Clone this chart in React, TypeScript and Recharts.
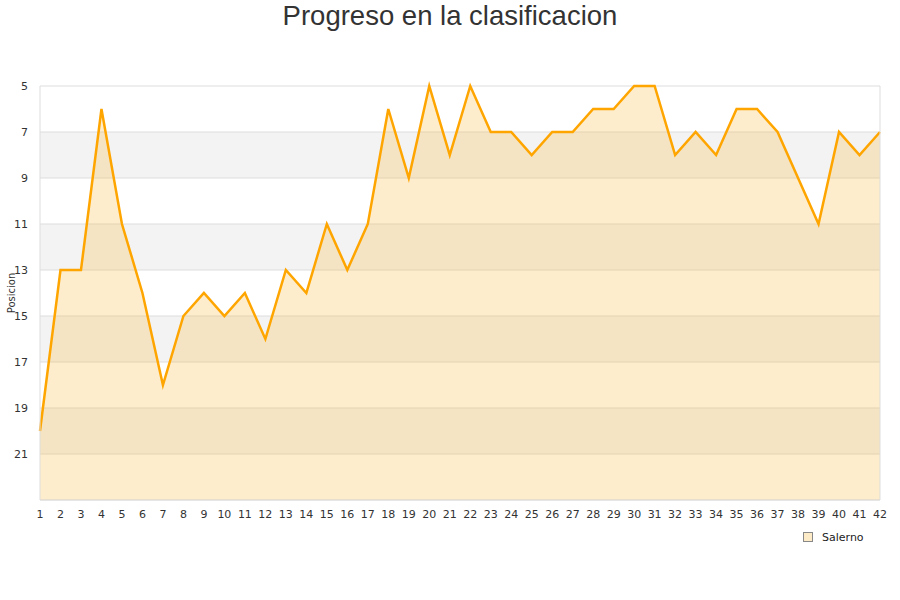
import React from 'react';
import {
  AreaChart,
  Area,
  XAxis,
  YAxis,
  CartesianGrid,
  Legend,
  ReferenceLine,
} from 'recharts';

const jornadas = [
  1, 2, 3, 4, 5, 6, 7, 8, 9, 10, 11, 12, 13, 14, 15, 16, 17, 18, 19, 20, 21,
  22, 23, 24, 25, 26, 27, 28, 29, 30, 31, 32, 33, 34, 35, 36, 37, 38, 39, 40,
  41, 42,
];
const salerno = [
  20, 13, 13, 6, 11, 14, 18, 15, 14, 15, 14, 16, 13, 14, 11, 13, 11, 6, 9, 5, 8,
  5, 7, 7, 8, 7, 7, 6, 6, 5, 5, 8, 7, 8, 6, 6, 7, 9, 11, 7, 8, 7,
];
const yTicks = [5, 7, 9, 11, 13, 15, 17, 19, 21];

const data = jornadas.map((j, i) => ({ jornada: j, Salerno: salerno[i] }));

const FONT = '"DejaVu Sans", Verdana, sans-serif';

function LegendContent() {
  return (
    <div style={{ display: 'flex', alignItems: 'center', fontFamily: FONT, fontSize: 11, color: '#222', height: 14 }}>
      <span
        style={{
          display: 'inline-block',
          width: 8,
          height: 8,
          background: '#fdebc8',
          border: '1px solid #888',
          marginRight: 9,
        }}
      />
      <span>Salerno</span>
    </div>
  );
}

export default function App() {
  return (
    <div style={{ position: 'absolute', left: 0, top: 0, width: 900, height: 600, background: '#fff' }}>
      <div
        style={{
          position: 'absolute',
          left: 0,
          top: 0,
          width: 900,
          textAlign: 'center',
          fontFamily: '"Liberation Sans", Arial, sans-serif',
          fontSize: 27.5,
          color: '#333',
          lineHeight: '32px',
        }}
      >
        Progreso en la clasificacion
      </div>
      <div
        style={{
          position: 'absolute',
          left: 11,
          top: 293,
          transform: 'translate(-50%, -50%) rotate(-90deg)',
          fontFamily: FONT,
          fontSize: 10,
          color: '#333',
          whiteSpace: 'nowrap',
        }}
      >
        Posicion
      </div>
      <AreaChart
        width={900}
        height={600}
        data={data}
        margin={{ top: 86, right: 20, bottom: 56, left: 8 }}
      >
        <CartesianGrid
          vertical={false}
          stroke="#dddddd"
          horizontalFill={['#ffffff', '#f3f3f3']}
          fillOpacity={1}
        />
        <XAxis
          dataKey="jornada"
          type="number"
          domain={[1, 42]}
          ticks={jornadas}
          interval={0}
          axisLine={{ stroke: '#dddddd' }}
          tickLine={false}
          tick={{ fill: '#333', fontSize: 11, fontFamily: FONT }}
          tickMargin={4}
          height={30}
        />
        <YAxis
          reversed
          domain={[5, 23]}
          ticks={yTicks}
          interval={0}
          width={32}
          axisLine={{ stroke: '#dddddd' }}
          tickLine={false}
          tick={{ fill: '#333', fontSize: 11, fontFamily: FONT }}
          tickMargin={6}
        />
        <Legend
          verticalAlign="bottom"
          align="right"
          content={<LegendContent />}
          wrapperStyle={{ position: 'absolute', left: 803, top: 530, width: 80, bottom: 'auto' }}
        />
        <Area
          type="linear"
          dataKey="Salerno"
          baseValue={23}
          stroke="#ffa500"
          strokeWidth={2.5}
          fill="rgb(251,183,51)"
          fillOpacity={0.25}
          dot={false}
          activeDot={false}
          isAnimationActive={false}
        />
        <ReferenceLine x={42} stroke="#dddddd" />
      </AreaChart>
    </div>
  );
}
